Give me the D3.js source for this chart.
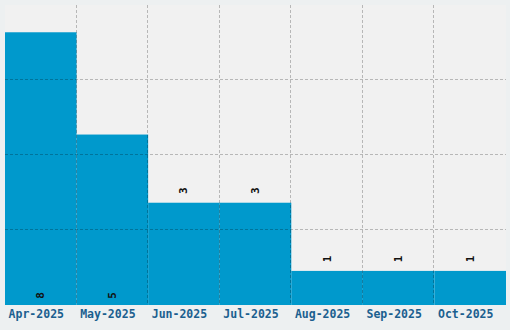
<!DOCTYPE html>
<html>
<head>
<meta charset="utf-8">
<script src="https://cdn.jsdelivr.net/npm/d3@7"></script>
<style>
  body { margin: 0; background: #edf0f1; }
  svg { display: block; }
</style>
</head>
<body>
<svg width="510" height="330"></svg>
<script>
const months = ["Apr-2025", "May-2025", "Jun-2025", "Jul-2025", "Aug-2025", "Sep-2025", "Oct-2025"];
const counts = [8, 5, 3, 3, 1, 1, 1];
const gridValues = [2.2, 4.4, 6.6];

const svg = d3.select("svg");
const plotLeft = 5, plotRight = 506, plotTop = 5, plotBottom = 305;

const x = d3.scaleBand().domain(months).range([plotLeft, plotRight]).padding(0);
const y = d3.scaleLinear().domain([0, 8.8]).range([plotBottom, plotTop]);

svg.append("rect")
    .attr("x", 0).attr("y", 0).attr("width", 510).attr("height", 330)
    .attr("fill", "#edf0f1");

svg.append("rect")
    .attr("x", plotLeft).attr("y", plotTop)
    .attr("width", plotRight - plotLeft).attr("height", plotBottom - plotTop)
    .attr("fill", "#f1f1f1");

// bars
svg.selectAll(".bar")
    .data(counts)
    .enter().append("rect")
        .attr("class", "bar")
        .attr("x", (d, i) => x(months[i]))
        .attr("y", d => y(d))
        .attr("width", x.bandwidth())
        .attr("height", d => plotBottom - y(d))
        .attr("fill", "#0099cc");

// grid on top of the bars
const grid = svg.append("g")
    .attr("stroke", "rgba(0,0,0,0.24)")
    .attr("stroke-width", 1)
    .attr("stroke-dasharray", "3,2");

grid.selectAll(".hgrid")
    .data(gridValues)
    .enter().append("line")
        .attr("x1", plotLeft).attr("x2", plotRight)
        .attr("y1", d => Math.round(y(d)) - 0.5)
        .attr("y2", d => Math.round(y(d)) - 0.5);

grid.selectAll(".vgrid")
    .data(months.slice(1))
    .enter().append("line")
        .attr("x1", d => Math.round(x(d)) - 0.5)
        .attr("x2", d => Math.round(x(d)) - 0.5)
        .attr("y1", plotTop).attr("y2", plotBottom);

// value labels
svg.selectAll(".val")
    .data(counts)
    .enter().append("text")
        .attr("class", "val")
        .attr("transform", (d, i) => {
            const cx = x(months[i]) + x.bandwidth() / 2;
            const cy = d >= 5 ? plotBottom - 9.5 : y(d) - 12;
            return "translate(" + cx + "," + cy + ") rotate(-90)";
        })
        .attr("text-anchor", "middle")
        .attr("dominant-baseline", "central")
        .attr("font-family", "DejaVu Sans Mono, monospace")
        .attr("font-weight", "bold")
        .attr("font-size", 11)
        .attr("fill", "#111")
        .text(d => d);

// x axis labels
svg.append("g")
    .attr("transform", "translate(-4.5," + plotBottom + ")")
    .call(d3.axisBottom(x).tickSize(0).tickPadding(5))
    .call(g => g.select(".domain").remove())
    .selectAll("text")
        .attr("font-family", "DejaVu Sans Mono, monospace")
        .attr("font-weight", "bold")
        .attr("font-size", 11.5)
        .attr("fill", "#1b5f8f");
</script>
</body>
</html>
